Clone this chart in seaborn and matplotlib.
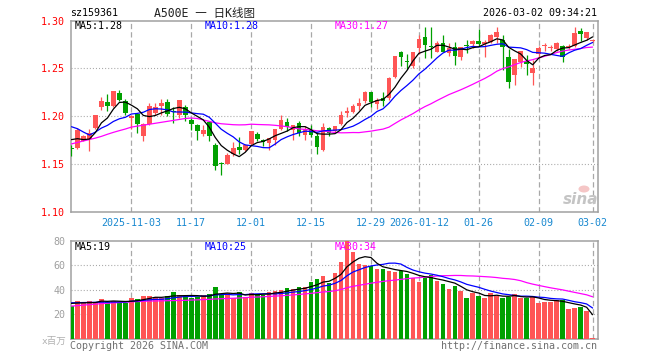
import numpy as np
import pandas as pd
import matplotlib
matplotlib.use("Agg")
import matplotlib.pyplot as plt
from matplotlib.patches import Ellipse
import seaborn as sns

# ---------------- data ----------------
opens = [1.1660, 1.1667, 1.1740, 1.1760, 1.1875, 1.2100, 1.2149, 1.2101, 1.2239, 1.2160,
         1.1985, 1.2020, 1.1795, 1.1917, 1.2030, 1.2110, 1.2146, 1.2047, 1.2014, 1.2100,
         1.1962, 1.1910, 1.1816, 1.1934, 1.1702, 1.1502, 1.1504, 1.1608, 1.1677, 1.1643,
         1.1712, 1.1816, 1.1753, 1.1719, 1.1747, 1.1868, 1.1938, 1.1851, 1.1927, 1.1806,
         1.1858, 1.1795, 1.1643, 1.1875, 1.1844, 1.1917, 1.2031, 1.2042, 1.2108, 1.2163,
         1.2250, 1.2128, 1.2194, 1.2187, 1.2413, 1.2673, 1.2569, 1.2524, 1.2708, 1.2830,
         1.2726, 1.2674, 1.2760, 1.2656, 1.2726, 1.2615, 1.2735, 1.2753, 1.2788, 1.2753,
         1.2778, 1.2830, 1.2795, 1.2621, 1.2431, 1.2569, 1.2580, 1.2455, 1.2646, 1.2731,
         1.2708, 1.2698, 1.2733, 1.2726, 1.2733, 1.2892, 1.2812, 1.2788]
highs = [1.1702, 1.1875, 1.1800, 1.1865, 1.2014, 1.2198, 1.2226, 1.2264, 1.2274, 1.2177,
         1.2010, 1.2030, 1.1927, 1.2142, 1.2142, 1.2177, 1.2177, 1.2100, 1.2170, 1.2118,
         1.1980, 1.1917, 1.1910, 1.1945, 1.1719, 1.1518, 1.1615, 1.1726, 1.1781, 1.1710,
         1.1840, 1.1830, 1.1760, 1.1771, 1.1868, 1.2014, 1.1980, 1.1910, 1.1951, 1.1892,
         1.1910, 1.1823, 1.1927, 1.1886, 1.1900, 1.2049, 1.2100, 1.2128, 1.2187, 1.2267,
         1.2257, 1.2187, 1.2257, 1.2413, 1.2628, 1.2680, 1.2649, 1.2673, 1.2847, 1.2932,
         1.2934, 1.2790, 1.2847, 1.2760, 1.2778, 1.2726, 1.2795, 1.2795, 1.2906, 1.2795,
         1.2864, 1.2934, 1.2847, 1.2698, 1.2594, 1.2684, 1.2639, 1.2587, 1.2733, 1.2760,
         1.2740, 1.2778, 1.2743, 1.2750, 1.2934, 1.2917, 1.2882, 1.2810]
lows = [1.1587, 1.1656, 1.1735, 1.1632, 1.1870, 1.2066, 1.2049, 1.2090, 1.2160, 1.2014,
        1.1860, 1.1820, 1.1736, 1.1910, 1.2014, 1.2014, 1.1997, 1.1927, 1.1980, 1.1945,
        1.1858, 1.1754, 1.1790, 1.1743, 1.1441, 1.1382, 1.1504, 1.1580, 1.1608, 1.1635,
        1.1700, 1.1736, 1.1684, 1.1650, 1.1702, 1.1858, 1.1847, 1.1754, 1.1795, 1.1754,
        1.1782, 1.1604, 1.1632, 1.1795, 1.1830, 1.1910, 1.1990, 1.2035, 1.2059, 1.2142,
        1.2094, 1.2076, 1.2108, 1.2170, 1.2403, 1.2524, 1.2489, 1.2500, 1.2649, 1.2604,
        1.2604, 1.2670, 1.2674, 1.2628, 1.2535, 1.2587, 1.2656, 1.2708, 1.2733, 1.2622,
        1.2760, 1.2760, 1.2483, 1.2292, 1.2327, 1.2517, 1.2431, 1.2327, 1.2622, 1.2684,
        1.2680, 1.2684, 1.2569, 1.2700, 1.2726, 1.2788, 1.2795, 1.2780]
closes = [1.1656, 1.1854, 1.1795, 1.1823, 1.2014, 1.2160, 1.2108, 1.2264, 1.2170, 1.2031,
          1.2000, 1.1917, 1.1917, 1.2108, 1.2090, 1.2135, 1.2021, 1.2043, 1.2170, 1.2014,
          1.1920, 1.1840, 1.1858, 1.1788, 1.1476, 1.1498, 1.1597, 1.1667, 1.1643, 1.1700,
          1.1840, 1.1764, 1.1730, 1.1771, 1.1868, 1.1962, 1.1886, 1.1910, 1.1823, 1.1868,
          1.1806, 1.1674, 1.1886, 1.1823, 1.1893, 1.2014, 1.2049, 1.2108, 1.2142, 1.2250,
          1.2146, 1.2170, 1.2163, 1.2403, 1.2628, 1.2621, 1.2565, 1.2666, 1.2802, 1.2743,
          1.2720, 1.2768, 1.2674, 1.2708, 1.2632, 1.2726, 1.2731, 1.2785, 1.2750, 1.2778,
          1.2847, 1.2882, 1.2726, 1.2361, 1.2594, 1.2684, 1.2545, 1.2500, 1.2708, 1.2735,
          1.2726, 1.2767, 1.2622, 1.2733, 1.2871, 1.2857, 1.2882, 1.2800]
volumes = [26.8, 30.9, 29.5, 30.9, 30.5, 32.5, 30.0, 30.9, 30.0, 29.5,
           33.3, 32.5, 34.9, 34.9, 34.4, 33.0, 34.9, 38.2, 35.7, 34.9,
           33.5, 34.4, 35.7, 36.5, 42.3, 35.7, 37.1, 33.8, 38.2, 34.5,
           37.5, 36.5, 36.0, 38.5, 39.0, 39.8, 41.4, 40.6, 42.5, 42.3,
           46.7, 48.8, 51.6, 45.8, 54.1, 62.9, 80.0, 71.1, 60.8, 60.5,
           59.4, 56.7, 56.7, 55.3, 54.8, 55.3, 52.9, 49.4, 46.7, 49.4,
           52.1, 47.2, 44.8, 40.4, 43.1, 39.0, 33.0, 37.1, 34.9, 33.3,
           37.6, 35.4, 33.3, 34.4, 36.5, 33.3, 33.3, 34.4, 29.5, 30.3,
           30.3, 31.7, 31.7, 24.1, 25.1, 25.7, 22.7, 1.2]

# moving-average values at the start of the window (before enough history exists)
ma5_head = [1.1754, 1.1764, 1.1754, 1.1760]
ma10_head = [1.1889, 1.1868, 1.1833, 1.1802, 1.1833, 1.1875, 1.1903, 1.1944, 1.1972]
ma30_head = [1.1709, 1.1725, 1.1740, 1.1755, 1.1770, 1.1788, 1.1810, 1.1830, 1.1848, 1.1865,
             1.1885, 1.1895, 1.1905, 1.1915, 1.1925, 1.1935, 1.1945, 1.1955, 1.1965, 1.1975,
             1.1980, 1.1975, 1.1960, 1.1945, 1.1930, 1.1920, 1.1915, 1.1910, 1.1908]
vma5_head = [29.0, 29.3, 29.5, 29.6]
vma10_head = [29.5, 29.6, 29.7, 29.8, 29.9, 30.0, 30.0, 30.1, 30.1]
vma30_head = [26.8, 27.2, 27.6, 28.0, 28.4, 28.8, 29.1, 29.4, 29.7, 30.0,
              30.3, 30.5, 30.7, 30.9, 31.0, 31.1, 31.2, 31.3, 31.4, 31.5,
              31.7, 31.9, 32.1, 32.3, 32.6, 32.8, 33.0, 33.2, 33.4]

date_tick_idx = [10, 20, 30, 40, 50, 58, 68, 78, 87]
date_tick_labels = ["2025-11-03", "11-17", "12-01", "12-15", "12-29",
                    "2026-01-12", "01-26", "02-09", "03-02"]
price_ticks = [1.10, 1.15, 1.20, 1.25, 1.30]
vol_ticks = [20, 40, 60, 80]

# ---------------- derived ----------------
n = len(closes)
idx = np.arange(n)
df = pd.DataFrame({"i": idx, "open": opens, "high": highs, "low": lows,
                   "close": closes, "vol": volumes})


def moving(series, w, head):
    m = series.rolling(w).mean().to_numpy()
    m[:len(head)] = head
    return m


ma5 = moving(df["close"], 5, ma5_head)
ma10 = moving(df["close"], 10, ma10_head)
ma30 = moving(df["close"], 30, ma30_head)
vma5 = moving(df["vol"], 5, vma5_head)
vma10 = moving(df["vol"], 10, vma10_head)
vma30 = moving(df["vol"], 30, vma30_head)

RED = "#FF5555"
GREEN = "#00A000"
BLUE_TXT = "#1888D0"
GRID = "#A8A8A8"
SPINE = "#A0A0A0"

sns.set_theme(style="white")
plt.rcParams["font.family"] = ["DejaVu Sans Mono", "Noto Sans CJK SC"]
plt.rcParams["lines.scale_dashes"] = False

W, H = 660, 360
fig = plt.figure(figsize=(6.6, 3.6), dpi=100)
fig.patch.set_facecolor("white")


def fx(x):
    return x / W


def fy(y):
    return 1 - y / H


L, R = 70.7, 597.7
ax = fig.add_axes([fx(L), fy(211.7), fx(R - L), (211.7 - 20.5) / H])
axv = fig.add_axes([fx(L), fy(339.0), fx(R - L), (339.0 - 240.8) / H])

up = df["close"] >= df["open"]
cols = np.where(up, RED, GREEN)

# candles
ax.vlines(df["i"], df["low"], df["high"], colors=cols, linewidth=0.9, zorder=3)
body_bottom = np.minimum(df["open"], df["close"])
body_h = np.maximum(np.abs(df["close"] - df["open"]), 0.0011)
ax.bar(df["i"], body_h, bottom=body_bottom, width=0.78, color=cols, linewidth=0, zorder=4)

for m, c in [(ma30, "#FF00FF"), (ma10, "#0000FF"), (ma5, "black")]:
    sns.lineplot(x=idx, y=m, color=c, linewidth=0.9, ax=ax, legend=False, zorder=5)

# volume
axv.bar(df["i"], df["vol"], width=0.78, color=cols, linewidth=0, zorder=3)
for m, c in [(vma30, "#FF00FF"), (vma10, "#0000FF"), (vma5, "black")]:
    sns.lineplot(x=idx, y=m, color=c, linewidth=0.9, ax=axv, legend=False, zorder=5)

xlim = (-0.13, 87.85)
for a in (ax, axv):
    a.set_xlim(*xlim)
    for s in a.spines.values():
        s.set_color(SPINE)
        s.set_linewidth(1.1)
    a.tick_params(length=0)
    a.set_xlabel("")
    a.set_ylabel("")
    for t in date_tick_idx:
        a.axvline(t, color=GRID, linewidth=0.9, linestyle=(0, (3.8, 2.2)), zorder=1)

ax.set_ylim(1.10, 1.30)
for v in [1.15, 1.20, 1.25]:
    ax.axhline(v, color=GRID, linewidth=0.8, linestyle=(0, (0.75, 1.45)), zorder=1)
ax.set_yticks(price_ticks)
ax.set_yticklabels([f"{v:.2f}" for v in price_ticks], color="#FF0000", fontsize=7.2)
ax.tick_params(axis="y", pad=4.0)
ax.set_xticks(date_tick_idx)
ax.set_xticklabels(date_tick_labels, color=BLUE_TXT, fontsize=7.2)
ax.tick_params(axis="x", pad=4.2)

axv.set_ylim(0, 80)
for v in [20, 40, 60]:
    axv.axhline(v, color=GRID, linewidth=0.8, linestyle=(0, (0.75, 1.45)), zorder=1)
axv.set_yticks(vol_ticks)
axv.set_yticklabels([str(v) for v in vol_ticks], color="#A0A0A0", fontsize=7.2)
axv.tick_params(axis="y", pad=4.0)
axv.set_xticks([])

# texts
fam = ["DejaVu Sans Mono", "Noto Sans CJK SC"]
fig.text(fx(70), fy(13.5), "sz159361", fontsize=7.2, color="black", va="center", ha="left", family=fam)
fig.text(fx(204), fy(13.5), "A500E 一 日K线图", fontsize=8.3, color="#222222", va="center", ha="center", family=fam)
fig.text(fx(597), fy(13.5), "2026-03-02 09:34:21", fontsize=7.2, color="black", va="center", ha="right", family=fam)

fig.text(fx(75), fy(26), f"MA5:{ma5[-1]:.2f}", fontsize=7.2, color="black", va="center", family=fam)
fig.text(fx(205), fy(26), f"MA10:{ma10[-1]:.2f}", fontsize=7.2, color="#0000FF", va="center", family=fam)
fig.text(fx(335), fy(26), f"MA30:{ma30[-1]:.2f}", fontsize=7.2, color="#FF00FF", va="center", family=fam)

fig.text(fx(75), fy(246.5), f"MA5:{int(vma5[-1])}", fontsize=7.2, color="black", va="center", family=fam)
fig.text(fx(205), fy(246.5), f"MA10:{int(vma10[-1])}", fontsize=7.2, color="#0000FF", va="center", family=fam)
fig.text(fx(335), fy(246.5), f"MA30:{int(vma30[-1])}", fontsize=7.2, color="#FF00FF", va="center", family=fam)

fig.text(fx(66), fy(341), "x百万", fontsize=6.8, color="#B0B0B0", va="center", ha="right", family=fam)
fig.text(fx(70), fy(346), "Copyright 2026 SINA.COM", fontsize=7.2, color="#707070", va="center", ha="left", family=fam)
fig.text(fx(597), fy(346), "http://finance.sina.com.cn", fontsize=7.2, color="#707070", va="center", ha="right", family=fam)

# sina watermark
fig.patches.append(Ellipse((fx(584), fy(189)), fx(11), 7 / H, transform=fig.transFigure,
                           facecolor="#F4C0C0", edgecolor="none", alpha=0.9))
fig.text(fx(581), fy(199), "sina", fontsize=11, color="#C4C4C4", va="center", ha="center",
         fontstyle="italic", fontweight="bold", family=["DejaVu Sans"])

fig.savefig("out.png", dpi=100, facecolor="white")
